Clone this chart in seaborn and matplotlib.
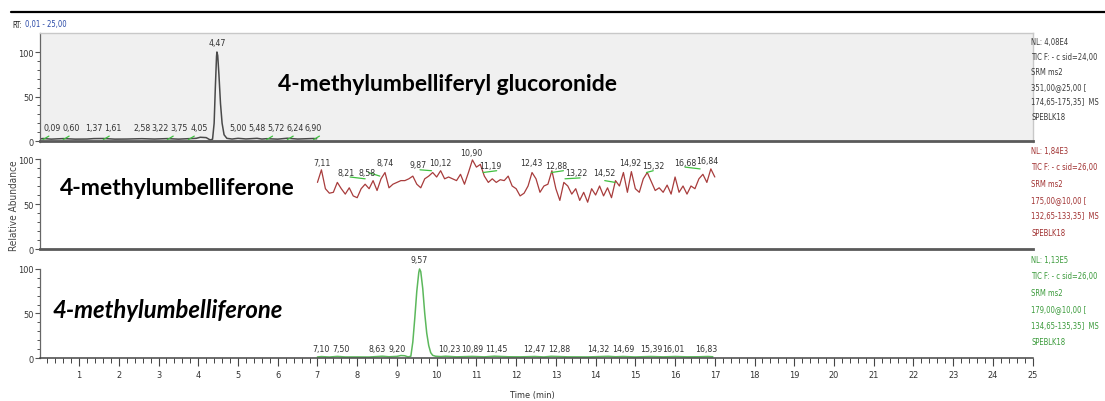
import os
import numpy as np
import matplotlib
matplotlib.use("Agg")
import matplotlib.pyplot as plt
import seaborn as sns
from matplotlib.lines import Line2D
from matplotlib.ticker import FixedLocator
from matplotlib import font_manager as fm
from matplotlib.font_manager import FontProperties

# ---------------- data ----------------
# top trace: 4-methylumbelliferyl glucoronide
top_t = [0.01, 0.09, 0.30, 0.60, 0.90, 1.20, 1.37, 1.61, 1.90, 2.20, 2.58, 2.90, 3.22, 3.50, 3.75,
         3.95, 4.05, 4.20, 4.30, 4.36, 4.40, 4.43, 4.46, 4.47, 4.49, 4.52, 4.56, 4.60, 4.65, 4.72,
         4.85, 5.00, 5.20, 5.48, 5.60, 5.72, 6.00, 6.24, 6.50, 6.90, 6.98]
top_y = [2.2, 2.8, 2.1, 2.7, 2.1, 2.2, 2.7, 2.8, 2.1, 2.2, 2.6, 2.2, 2.7, 2.1, 2.6,
         3.0, 4.2, 3.8, 1.2, 2.0, 20, 60, 95, 100, 96, 75, 42, 20, 7, 3,
         2.2, 3.0, 2.3, 3.0, 2.2, 2.6, 2.1, 3.1, 2.2, 2.8, 2.5]
top_labels = [0.09, 0.60, 1.37, 1.61, 2.58, 3.22, 3.75, 4.05, 4.47, 5.00, 5.48, 5.72, 6.24, 6.90]
top_marks = [0.09, 0.60, 1.61, 3.22, 3.75, 5.72, 6.24, 6.90]

# middle trace: 4-methylumbelliferone (175 -> 133), sampled every 0.1 min from 7.0 to 17.0
mid_t = np.round(np.arange(7.0, 17.001, 0.1), 2)
mid_y = [74, 88, 67, 62, 63, 74, 67, 61, 68, 59,
         57, 67, 72, 67, 76, 65, 78, 85, 68, 72,
         74, 76, 76, 78, 81, 72, 68, 78, 81, 85,
         80, 87, 78, 80, 78, 76, 83, 72, 85, 99,
         91, 94, 81, 74, 78, 74, 77, 76, 81, 70,
         67, 59, 62, 70, 85, 78, 63, 70, 72, 87,
         67, 54, 74, 70, 61, 67, 54, 63, 52, 67,
         60, 70, 59, 68, 57, 76, 70, 85, 63, 86,
         67, 63, 78, 85, 75, 65, 68, 63, 71, 61,
         80, 63, 70, 61, 70, 67, 78, 83, 74, 89,
         80]
mid_labels = [7.11, 8.21, 8.58, 8.74, 9.87, 10.12, 10.90, 11.19, 12.43, 12.88, 13.22, 14.52,
              14.92, 15.32, 16.68, 16.84]
mid_base_t0 = [7.82, 8.28, 9.58, 11.17, 12.89, 13.23, 14.23, 15.28, 16.25]
mid_base_t1 = [8.20, 8.57, 9.87, 11.51, 13.19, 13.61, 14.49, 15.45, 16.63]
mid_base_y0 = [80, 85, 88, 85, 85, 78, 76, 85, 91]
mid_base_y1 = [78, 81, 87, 87, 87, 79, 74, 87, 89]

# bottom trace: 4-methylumbelliferone (179 -> 135)
bot_t = [7.00, 7.10, 7.30, 7.50, 7.70, 8.00, 8.30, 8.63, 8.80, 9.00, 9.10, 9.20, 9.28, 9.35, 9.40,
         9.45, 9.50, 9.55, 9.57, 9.60, 9.65, 9.70, 9.75, 9.80, 9.85, 9.90, 9.97, 10.10, 10.23, 10.50,
         10.89, 11.20, 11.45, 11.80, 12.10, 12.47, 12.70, 12.88, 13.30, 13.80, 14.32, 14.50, 14.69,
         15.00, 15.39, 15.70, 16.01, 16.30, 16.60, 16.83, 16.95]
bot_y = [1.2, 1.6, 1.1, 1.8, 1.2, 1.2, 1.1, 2.0, 1.4, 1.8, 2.8, 2.5, 1.2, 2.0, 18,
         45, 75, 96, 100, 97, 78, 50, 28, 14, 6, 3, 2.0, 1.6, 2.0, 1.3,
         1.8, 1.3, 2.0, 1.4, 1.3, 1.7, 1.2, 1.9, 1.3, 1.2, 1.9, 1.4, 1.7,
         1.2, 1.7, 1.3, 1.7, 1.3, 1.4, 1.7, 1.4]
bot_labels = [7.10, 7.50, 8.63, 9.20, 9.57, 10.23, 10.89, 11.45, 12.47, 12.88, 14.32, 14.69,
              15.39, 16.01, 16.83]

x_ticks = list(range(1, 26))
y_ticks = [0, 50, 100]

info_top = ["NL: 4,08E4", "TIC F: - c sid=24,00", "SRM ms2", "351,00@25,00 [", "174,65-175,35]  MS", "SPEBLK18"]
info_mid = ["NL: 1,84E3", "TIC F: - c sid=26,00", "SRM ms2", "175,00@10,00 [", "132,65-133,35]  MS", "SPEBLK18"]
info_bot = ["NL: 1,13E5", "TIC F: - c sid=26,00", "SRM ms2", "179,00@10,00 [", "134,65-135,35]  MS", "SPEBLK18"]

# ---------------- layout (label placement offsets) ----------------
top_lab_dx = [0.23, 0.19, 0, 0.25, 0, -0.17, -0.23, -0.03, 0, 0, 0, 0.23, 0.2, 0]
top_lab_h = [15.4] * 8 + [111] + [15.4] * 5
mid_lab_dx = [0, -0.48, -0.34, -0.04, -0.33, -0.04, -0.02, 0.15, -0.04, 0.14, 0.30, -0.29,
              -0.06, 0.13, -0.42, -0.02]
mid_lab_h = [96.3, 85.2, 85.2, 96.3, 94.4, 96.3, 107.4, 92.6, 96.3, 92.6, 85.2, 85.2,
             95.6, 92.6, 96.3, 98.1]
bot_lab_dx = [0, 0.08, -0.13, -0.19, 0, 0.08, 0, 0.05, 0, 0.2, -0.25, 0, 0, -0.05, -0.05]
bot_lab_h = [11.2] * 4 + [111] + [11.2] * 10

sns.set_theme(style="white")
plt.rcParams["font.family"] = ["Liberation Sans", "DejaVu Sans"]


def find_narrow():
    names = [os.path.basename(f.fname).lower() for f in fm.fontManager.ttflist]
    paths = [f.fname for f in fm.fontManager.ttflist]
    for want in ("liberationsansnarrow-regular.ttf", "arialn.ttf", "dejavusanscondensed.ttf"):
        for n, p in zip(names, paths):
            if n == want:
                return p
    return None


NARROW_PATH = find_narrow()


def small(size):
    if NARROW_PATH:
        return FontProperties(fname=NARROW_PATH, size=size)
    return FontProperties(family="Liberation Sans", size=size * 0.85)


W, H = 1105, 402
fig = plt.figure(figsize=(W / 100, H / 100), dpi=100)
fig.patch.set_facecolor("white")


def px_axes(left, right, top, bottom):
    return fig.add_axes([left / W, 1 - bottom / H, (right - left) / W, (bottom - top) / H])


XL, XR = 39.7, 1032.7
ax_top = px_axes(XL, XR, 34, 143)
ax_mid = px_axes(XL, XR, 143, 251)
ax_bot = px_axes(XL, XR, 251, 360)

ax_top.set_ylim(-1.12, 121.35)
ax_mid.set_ylim(-1.11, 118.9)
ax_bot.set_ylim(-1.12, 121.3)

TRACE_TOP = "#4a4a4a"
TRACE_MID = "#a83c3c"
TRACE_BOT = "#5cb85c"
GREEN_BL = "#3fbf3f"
LABEL_C = "#333333"

sns.lineplot(x=top_t, y=top_y, ax=ax_top, color=TRACE_TOP, lw=1.1)
sns.lineplot(x=mid_t, y=mid_y, ax=ax_mid, color=TRACE_MID, lw=0.9)
sns.lineplot(x=bot_t, y=bot_y, ax=ax_bot, color=TRACE_BOT, lw=1.1)

for t in top_marks:
    ax_top.plot([t, t + 0.15], [1.5, 5.5], color=GREEN_BL, lw=0.9)
for a, b, c, d in zip(mid_base_t0, mid_base_t1, mid_base_y0, mid_base_y1):
    ax_mid.plot([a, b], [c, d], color=GREEN_BL, lw=0.9)


def fmt(t):
    return f"{t:.2f}".replace(".", ",")


LAB_FP = small(6.3)
for ax, labs, dxs, hs in ((ax_top, top_labels, top_lab_dx, top_lab_h),
                          (ax_mid, mid_labels, mid_lab_dx, mid_lab_h),
                          (ax_bot, bot_labels, bot_lab_dx, bot_lab_h)):
    for t, dx, h in zip(labs, dxs, hs):
        ax.text(t + dx, h, fmt(t), ha="center", va="center", fontproperties=LAB_FP, color=LABEL_C)

TICK_FP = small(6.6)
for ax in (ax_top, ax_mid, ax_bot):
    ax.set_xlim(0.01, 25)
    ax.set_xlabel("")
    ax.set_ylabel("")
    ax.yaxis.set_major_locator(FixedLocator(y_ticks))
    ax.yaxis.set_minor_locator(FixedLocator([10, 20, 30, 40, 60, 70, 80, 90]))
    ax.tick_params(axis="y", which="major", direction="out", length=3.6, width=0.8, color="#555555",
                   labelcolor=LABEL_C, pad=1, left=True)
    ax.tick_params(axis="y", which="minor", direction="out", length=2.0, width=0.7, color="#555555",
                   left=True)
    ax.spines["left"].set_color("#666666")
    ax.spines["left"].set_linewidth(0.9)
    ax.spines["bottom"].set_position(("data", 0))

ax_top.set_facecolor("#f0f0f0")
for s in ("top", "right"):
    ax_top.spines[s].set_color("#c8c8c8")
    ax_top.spines[s].set_linewidth(1.0)
ax_top.spines["bottom"].set_color("#5a5a5a")
ax_top.spines["bottom"].set_linewidth(2.0)
ax_top.set_xticks([])

ax_mid.set_facecolor("none")
ax_mid.spines["top"].set_visible(False)
ax_mid.spines["right"].set_visible(False)
ax_mid.spines["left"].set_bounds(0, 100)
ax_mid.spines["bottom"].set_color("#5a5a5a")
ax_mid.spines["bottom"].set_linewidth(2.0)
ax_mid.set_xticks([])

ax_bot.set_facecolor("none")
ax_bot.spines["top"].set_visible(False)
ax_bot.spines["right"].set_visible(False)
ax_bot.spines["left"].set_bounds(0, 100)
ax_bot.spines["bottom"].set_color("#444444")
ax_bot.spines["bottom"].set_linewidth(1.1)
ax_bot.xaxis.set_major_locator(FixedLocator(x_ticks))
ax_bot.xaxis.set_minor_locator(FixedLocator([round(v, 1) for v in np.arange(0.2, 25.0, 0.2)]))
ax_bot.tick_params(axis="x", which="major", direction="out", length=5.8, width=0.8, color="#444444",
                   labelcolor=LABEL_C, pad=3, bottom=True)
ax_bot.tick_params(axis="x", which="minor", direction="out", length=3.4, width=0.7, color="#444444",
                   bottom=True)

for ax in (ax_top, ax_mid, ax_bot):
    for lbl in ax.get_yticklabels() + ax.get_xticklabels():
        lbl.set_fontproperties(TICK_FP)

# compound names
ax_top.text(6.0, 57.6, "4-methylumbelliferyl glucoronide", family="Lato", weight="bold",
            fontsize=16.5, color="black", ha="left", va="baseline")
ax_mid.text(0.52, 61, "4-methylumbelliferone", family="Lato", weight="bold",
            fontsize=16.6, color="black", ha="left", va="baseline")
ax_bot.text(0.32, 46, "4-methylumbelliferone", family="Lato", weight="bold", style="italic",
            fontsize=17.2, color="black", ha="left", va="baseline")

INFO_FP = small(5.5)


def info_block(lines, y0, gap, color):
    for i, s in enumerate(lines):
        fig.text(1031 / W, 1 - (y0 + i * gap) / H, s, ha="left", va="center",
                 fontproperties=INFO_FP, color=color)


info_block(info_top, 43, 14.8, "#3a3a3a")
info_block(info_mid, 151.7, 16.3, "#a03030")
info_block(info_bot, 260, 16.6, "#3a9a3a")

fig.text(12 / W, 1 - 25 / H, "RT:", ha="left", va="center", fontproperties=INFO_FP, color="#222222")
fig.text(25 / W, 1 - 25 / H, "0,01 - 25,00", ha="left", va="center", fontproperties=INFO_FP,
         color="#2a4aa8")
fig.add_artist(Line2D([11 / W, 1.0], [1 - 13 / H, 1 - 13 / H], transform=fig.transFigure,
                      color="black", lw=1.6))

fig.text(14.5 / W, 1 - 206 / H, "Relative Abundance", rotation=90, ha="center", va="center",
         fontproperties=small(7.2), color="#444444")
fig.text(532 / W, 1 - 396 / H, "Time (min)", ha="center", va="center", fontproperties=small(6.6),
         color="#333333")

fig.savefig("out.png", dpi=100, facecolor="white")
